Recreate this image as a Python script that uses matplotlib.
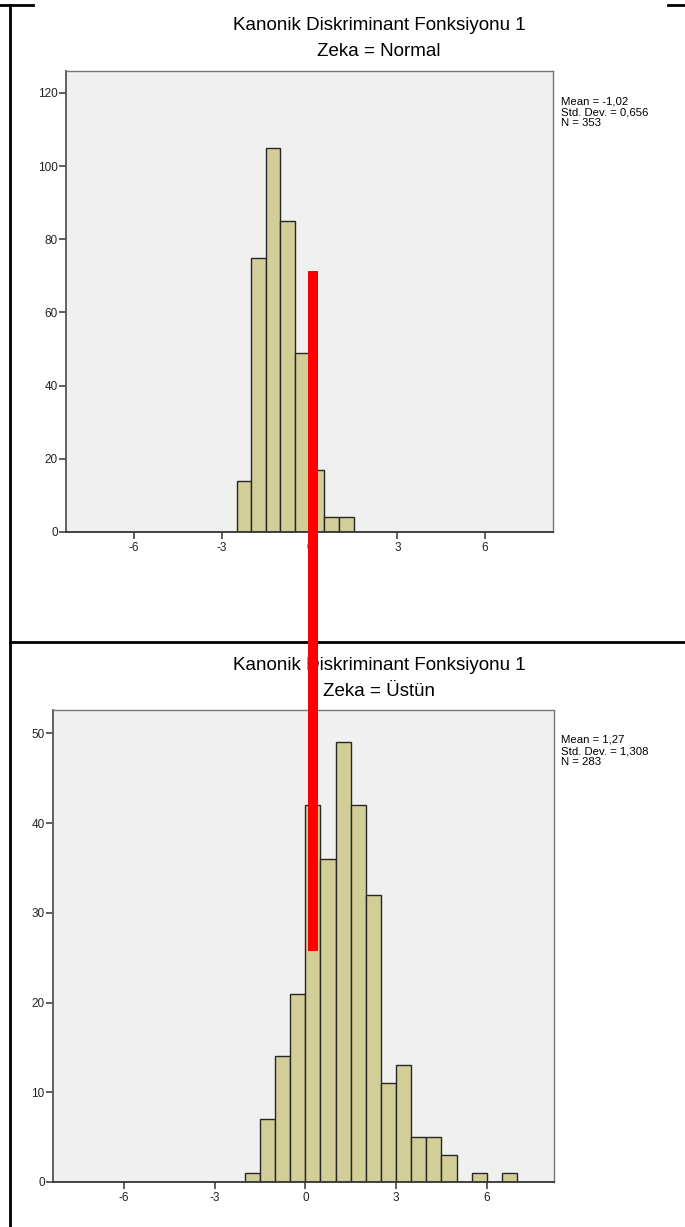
import matplotlib
matplotlib.use("Agg")
import matplotlib.pyplot as plt
from matplotlib.patches import Rectangle
from matplotlib.lines import Line2D

plt.rcParams['font.family'] = ['Liberation Sans', 'DejaVu Sans']

# ---------------- data ----------------
bin_width = 0.5
normal_bin_starts = [-2.5, -2.0, -1.5, -1.0, -0.5, 0.0, 0.5, 1.0]
normal_counts = [14, 75, 105, 85, 49, 17, 4, 4]

ustun_bin_starts = [-2.0, -1.5, -1.0, -0.5, 0.0, 0.5, 1.0, 1.5, 2.0, 2.5,
                    3.0, 3.5, 4.0, 4.5, 5.0, 5.5, 6.0, 6.5]
ustun_counts = [1, 7, 14, 21, 42, 36, 49, 42, 32, 11,
                13, 5, 5, 3, 0, 1, 0, 1]

x_ticks = [-6, -3, 0, 3, 6]
normal_y_ticks = [0, 20, 40, 60, 80, 100, 120]
ustun_y_ticks = [0, 10, 20, 30, 40, 50]

main_title = "Kanonik Diskriminant Fonksiyonu 1"
normal_subtitle = "Zeka = Normal"
ustun_subtitle = "Zeka = Üstün"
normal_stats = "Mean = -1,02\nStd. Dev. = 0,656\nN = 353"
ustun_stats = "Mean = 1,27\nStd. Dev. = 1,308\nN = 283"

# ---------------- figure ----------------
W, H = 685, 1227
fig = plt.figure(figsize=(W / 100, H / 100), dpi=100)
fig.patch.set_facecolor('white')


def px_axes(left, top, right, bottom):
    return [left / W, 1 - bottom / H, (right - left) / W, (bottom - top) / H]


BAR_FACE = '#D3CE97'
BAR_EDGE = '#262626'
BG = '#F0F0F0'


def style_axes(ax, xlim, ylim, yticks):
    ax.set_facecolor(BG)
    ax.set_xlim(*xlim)
    ax.set_ylim(*ylim)
    ax.set_xticks(x_ticks)
    ax.set_xticklabels([str(t) for t in x_ticks])
    ax.set_yticks(yticks)
    ax.set_yticklabels([str(t) for t in yticks])
    ax.tick_params(axis='both', length=5, width=1.1, color='#333333',
                   labelsize=8.5, labelcolor='#222222', pad=2)
    ax.tick_params(axis='y', pad=1)
    for side in ['left', 'bottom']:
        ax.spines[side].set_color('#555555')
        ax.spines[side].set_linewidth(1.3)
    for side in ['top', 'right']:
        ax.spines[side].set_color('#777777')
        ax.spines[side].set_linewidth(1.0)
    ax.spines['bottom'].set_color('#333333')


# top chart
ax1 = fig.add_axes(px_axes(66, 71, 553, 532))
ax1.bar(normal_bin_starts, normal_counts, width=bin_width, align='edge',
        color=BAR_FACE, edgecolor=BAR_EDGE, linewidth=1.0, zorder=2)
style_axes(ax1, (-8.33, 8.32), (0, 126), normal_y_ticks)

# bottom chart
ax2 = fig.add_axes(px_axes(53, 710, 554, 1182))
ax2.bar(ustun_bin_starts, ustun_counts, width=bin_width, align='edge',
        color=BAR_FACE, edgecolor=BAR_EDGE, linewidth=1.0, zorder=2)
style_axes(ax2, (-8.34, 8.22), (0, 52.6), ustun_y_ticks)

# titles (figure pixel positions)
TX = 379
for ty, txt in [(26, main_title), (51, normal_subtitle),
                (666, main_title), (692, ustun_subtitle)]:
    fig.text(TX / W, 1 - ty / H, txt, ha='center', va='center',
             fontsize=13.5, color='black')

# stats text
for ty, txt in [(96, normal_stats), (735, ustun_stats)]:
    fig.text(561 / W, 1 - ty / H, txt, ha='left', va='top',
             fontsize=8.2, color='black', linespacing=1.15)

# frame lines (table borders)
lw = 2.0
fig.add_artist(Line2D([9.6 / W, 9.6 / W], [1 - 5 / H, 0], color='black',
                      lw=lw, transform=fig.transFigure))
fig.add_artist(Line2D([0, 33 / W], [1 - 5 / H, 1 - 5 / H], color='black',
                      lw=lw, transform=fig.transFigure))
fig.add_artist(Line2D([668 / W, 1], [1 - 5 / H, 1 - 5 / H], color='black',
                      lw=lw, transform=fig.transFigure))
fig.add_artist(Line2D([9.6 / W, 1], [1 - 642 / H, 1 - 642 / H], color='black',
                      lw=lw, transform=fig.transFigure))

# red annotation bar drawn over both charts
rx0, rx1, ry0, ry1 = 308, 318, 271, 951
fig.add_artist(Rectangle((rx0 / W, 1 - ry1 / H), (rx1 - rx0) / W,
                         (ry1 - ry0) / H, transform=fig.transFigure,
                         facecolor='#FF0000', edgecolor='none', zorder=10))

fig.savefig('out.png', dpi=100, facecolor='white')
